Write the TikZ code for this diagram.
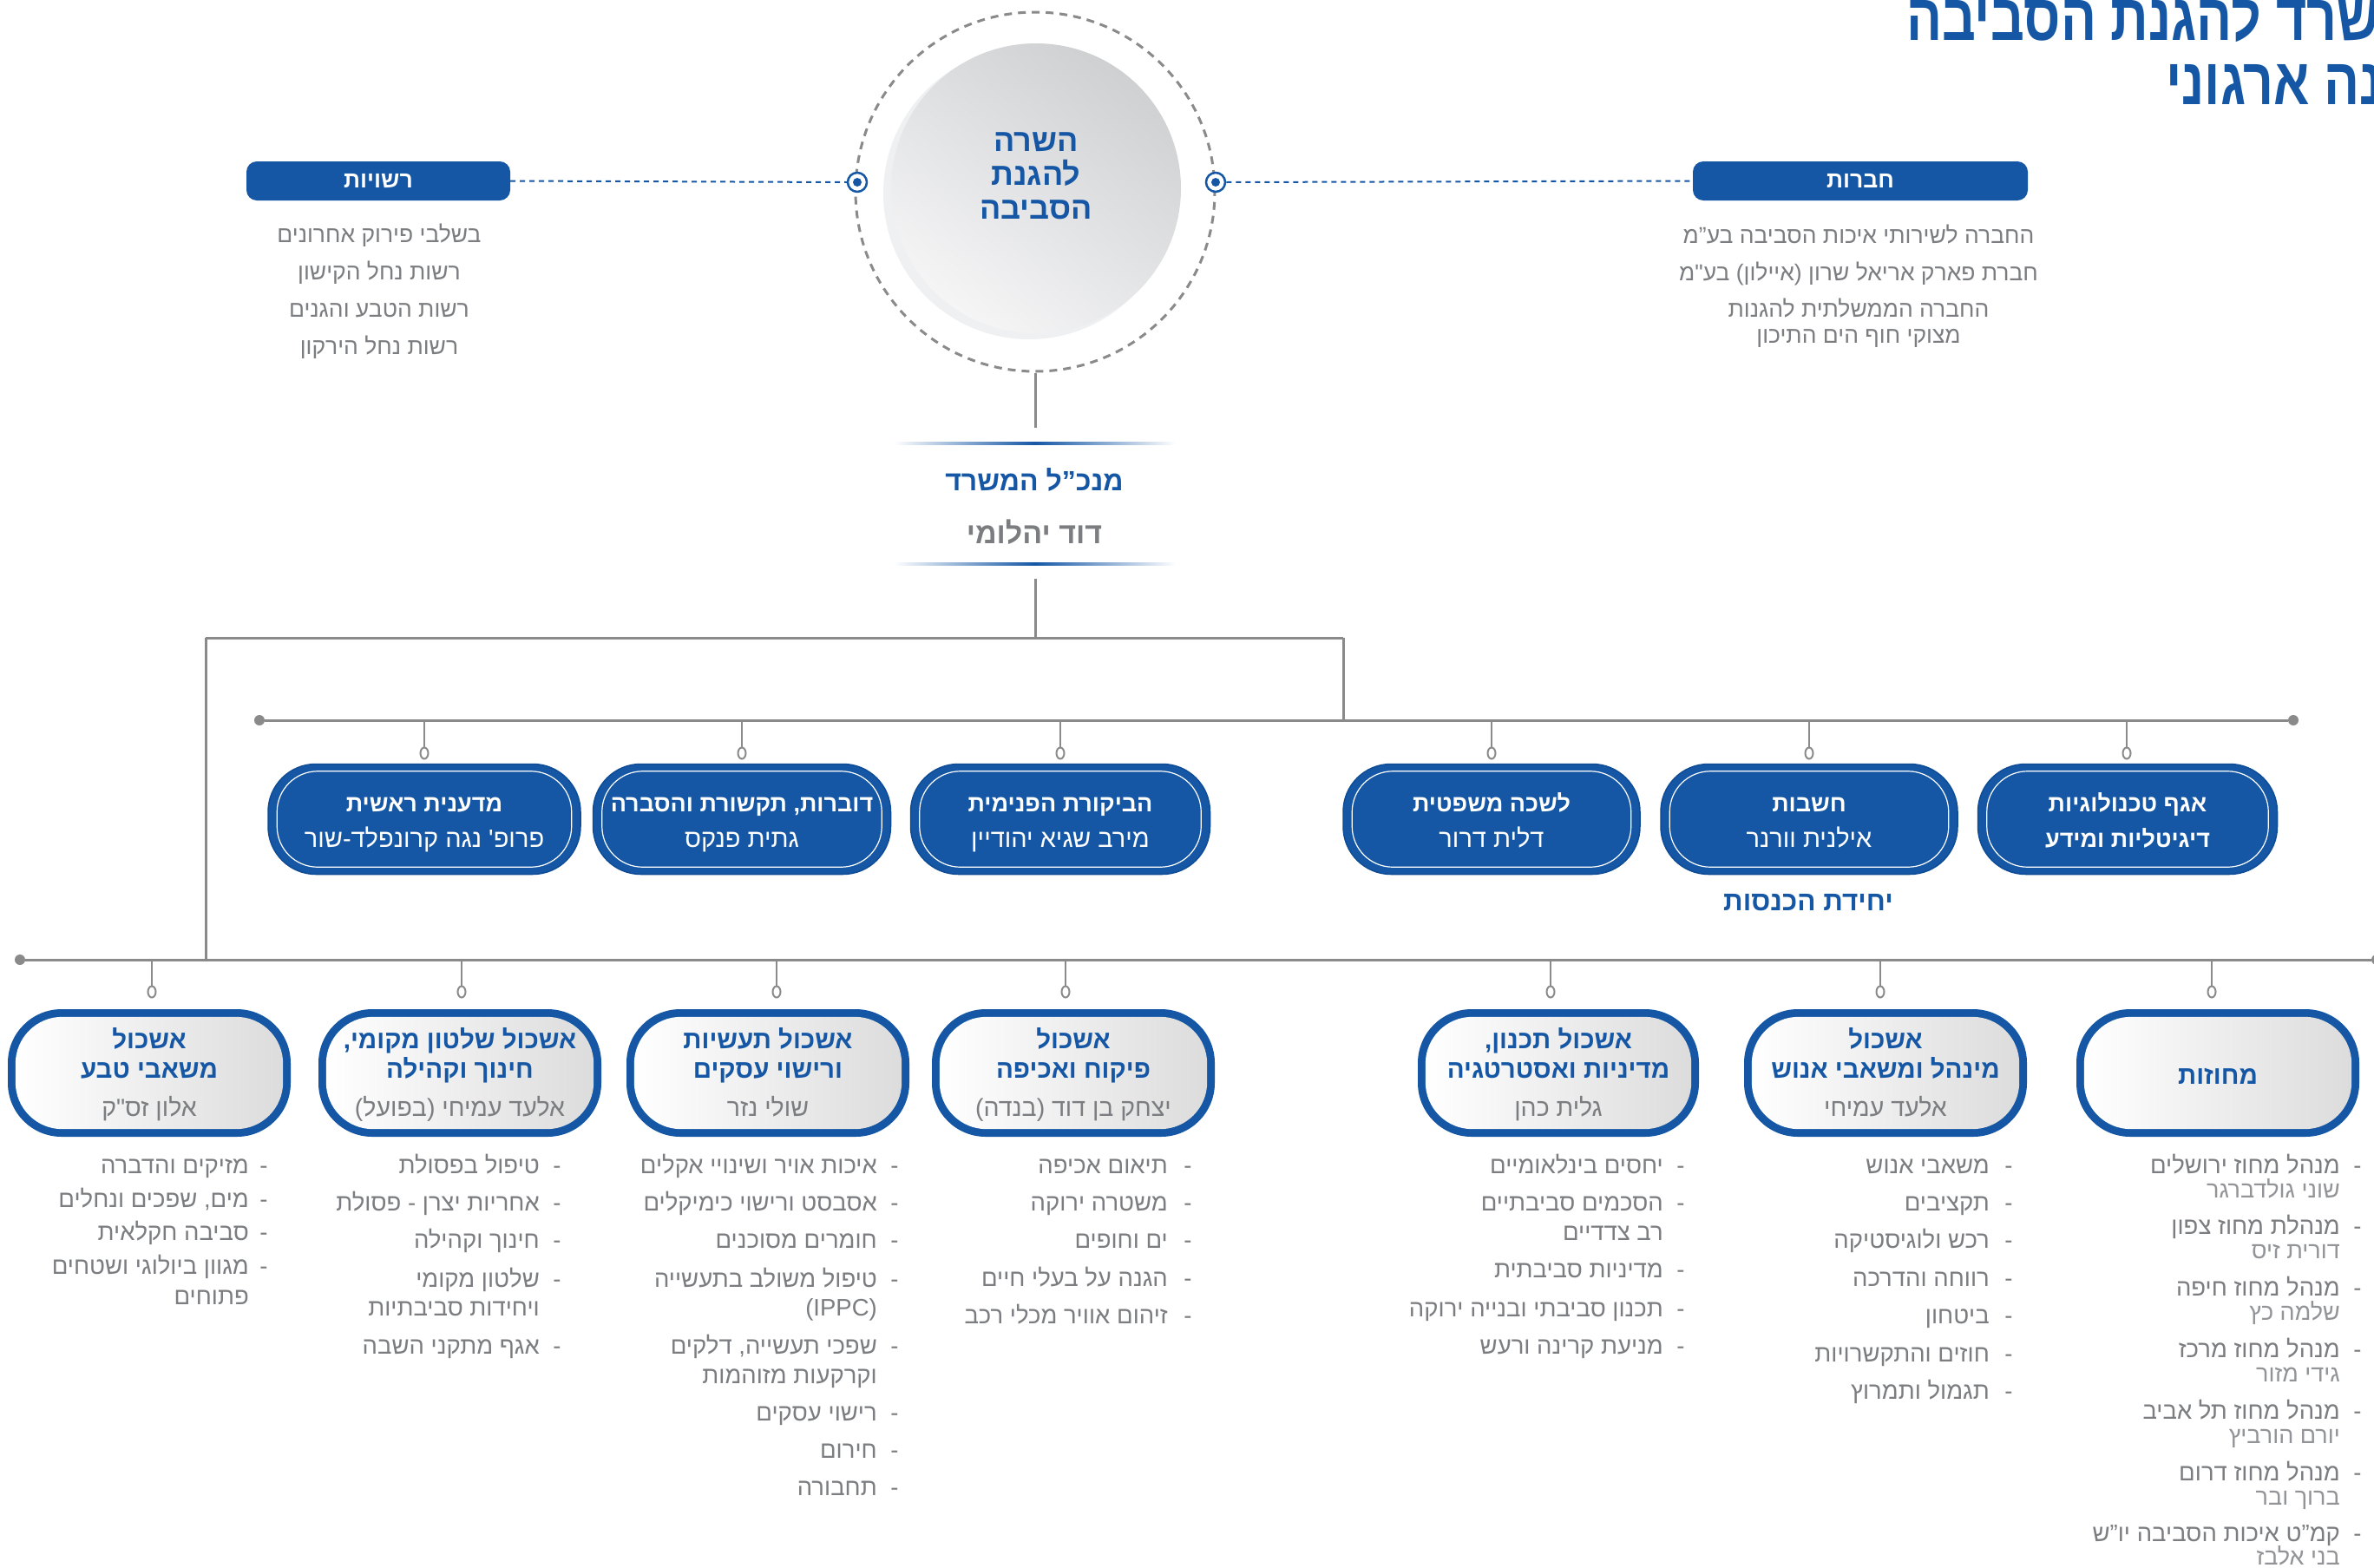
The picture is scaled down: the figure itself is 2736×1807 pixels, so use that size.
\documentclass[tikz,border=0pt]{standalone}
\usepackage{fontspec}
\usetikzlibrary{shapes.geometric}
\TeXXeTstate=1
\newfontfamily\hebf[Script=Hebrew]{Liberation Sans}
\newfontfamily\hebtitle[Script=Hebrew,FakeStretch=0.8]{Liberation Sans}
\definecolor{envblue}{HTML}{1557A5}
\definecolor{envdark}{HTML}{0F4C95}
\definecolor{txtgray}{HTML}{7B7D80}
\definecolor{namegray}{HTML}{929497}
\definecolor{linegray}{HTML}{8A8A8A}
\definecolor{boxgray}{HTML}{DCDCDC}
\definecolor{circdark}{HTML}{CFD0D2}
\definecolor{circlight}{HTML}{F5F5F6}
\definecolor{circshadow}{HTML}{EEF0F2}
\tikzset{
 titletxt/.style={font=\hebtitle\bfseries\fontsize{76pt}{80pt}\selectfont, text=envblue, inner sep=0pt},
 topbox/.style={rectangle, fill=envblue, rounded corners=12pt, minimum height=45pt, inner sep=0pt, text=white, font=\hebf\bfseries\fontsize{26.5pt}{28pt}\selectfont},
 toplst/.style={font=\hebf\fontsize{26.5pt}{30pt}\selectfont, text=txtgray, inner sep=0pt},
 lst/.style={font=\hebf\fontsize{27.5pt}{30pt}\selectfont, text=txtgray, inner sep=0pt},
 lstname/.style={font=\hebf\fontsize{27pt}{30pt}\selectfont, text=namegray, inner sep=0pt},
 dashline/.style={envblue, line width=2pt, dash pattern=on 6pt off 5pt},
 target/.style={circle, draw=envblue, line width=2.5pt, fill=white, minimum size=22pt, inner sep=0pt},
 conn/.style={linegray, line width=3pt},
 drop/.style={linegray, line width=2pt},
 ring/.style={ellipse, draw=linegray, line width=2pt, fill=white, minimum width=9pt, minimum height=13pt, inner sep=0pt},
 bardot/.style={circle, fill=linegray, minimum size=12pt, inner sep=0pt},
 bluebx/.style={rectangle, fill=envblue, draw=envdark, line width=1.5pt, rounded corners=55pt, minimum height=127pt, inner sep=0pt},
 bxbold/.style={font=\hebf\bfseries\fontsize{27pt}{30pt}\selectfont, text=white, inner sep=0pt},
 bxreg/.style={font=\hebf\fontsize{29pt}{30pt}\selectfont, text=white, inner sep=0pt},
 graybx/.style={rectangle, fill=envblue, rounded corners=62pt, minimum height=147pt, inner sep=0pt},
 gbold/.style={font=\hebf\bfseries\fontsize{29.5pt}{33pt}\selectfont, text=envblue, inner sep=0pt},
 greg/.style={font=\hebf\fontsize{28.5pt}{33pt}\selectfont, text=txtgray, inner sep=0pt},
 circtxt/.style={font=\hebf\bfseries\fontsize{36pt}{40pt}\selectfont, text=envblue, inner sep=0pt},
 dgtxt/.style={font=\hebf\bfseries\fontsize{32pt}{40pt}\selectfont, text=envblue, inner sep=0pt},
}
\newcommand{\li}[5]{%
  \node[lst, anchor=base] (#1d) at (#2,#4) {-};
  \node[lst, anchor=base east] (#1) at (#3,#4) {#5};}
\newcommand{\lc}[4]{%
  \node[lst, anchor=base east] (#1) at (#2,#3) {#4};}
\newcommand{\bluebox}[6]{%
  \node[bluebx, minimum width=#4pt] (#1) at (#2,#3) {};
  \draw[white, line width=1.2pt, rounded corners=47pt] ([shift={(11pt,9pt)}]#1.south west) rectangle ([shift={(-11pt,-9pt)}]#1.north east);
  \node[bxbold, anchor=base] (#1a) at (#2,935) {#5};
  \node[bxreg, anchor=base] (#1b) at (#2,976) {#6};}
\newcommand{\graybox}[3]{%
  \node[graybx, minimum width=#3pt] (#1) at (#2,1236.5) {};
  \shade[left color=white, right color=boxgray, rounded corners=54pt] ([shift={(9pt,9pt)}]#1.south west) rectangle ([shift={(-9pt,-9pt)}]#1.north east);}
\begin{document}
\begin{tikzpicture}[x=1pt,y=-1pt]
\useasboundingbox (0,0) rectangle (2736,1807);
\fill[white] (0,0) rectangle (2736,1807);

% title
\node[titletxt, anchor=base east] (title1) at (2743,46) {\beginR שרד להגנת הסביבה\endR};
\node[titletxt, anchor=base east] (title2) at (2746,120) {\beginR נה ארגוני\endR};

% minister circle
\node[circle, draw=linegray, line width=3pt, dash pattern=on 9pt off 7pt, minimum size=414pt, inner sep=0pt] (minister) at (1193,221) {};
\fill[circshadow] (1186,223) circle[radius=168pt];
\shade[top color=circdark, bottom color=circlight, shading angle=-35] (1194,217) circle[radius=167pt];
\node[circtxt, anchor=base] (m1) at (1194,174) {\beginR השרה\endR};
\node[circtxt, anchor=base] (m2) at (1194,213) {\beginR להגנת\endR};
\node[circtxt, anchor=base] (m3) at (1194,252) {\beginR הסביבה\endR};

% side boxes
\node[target] (tl) at (988,210) {};
\fill[envblue] (tl.center) circle[radius=5pt];
\node[target] (tr) at (1401,210) {};
\fill[envblue] (tr.center) circle[radius=5pt];
\node[topbox, minimum width=304pt] (rash) at (436,208.5) {\beginR רשויות\endR};
\node[topbox, minimum width=386pt] (chav) at (2144,208.5) {\beginR חברות\endR};
\draw[dashline] (rash.east) -- (tl.west);
\draw[dashline] (tr.east) -- (chav.west);

\node[toplst, anchor=base] (r1) at (437,279) {\beginR בשלבי פירוק אחרונים\endR};
\node[toplst, anchor=base] (r2) at (437,322) {\beginR רשות נחל הקישון\endR};
\node[toplst, anchor=base] (r3) at (437,365) {\beginR רשות הטבע והגנים\endR};
\node[toplst, anchor=base] (r4) at (437,408) {\beginR רשות נחל הירקון\endR};
\node[toplst, anchor=base] (c1) at (2142,280) {\beginR החברה לשירותי איכות הסביבה בע”מ\endR};
\node[toplst, anchor=base] (c2) at (2142,323) {\beginR חברת פארק אריאל שרון (איילון) בע"מ\endR};
\node[toplst, anchor=base] (c3) at (2142,365) {\beginR החברה הממשלתית להגנות\endR};
\node[toplst, anchor=base] (c4) at (2142,395) {\beginR מצוקי חוף הים התיכון\endR};

% director general
\coordinate (dgtop) at (1193,493);
\draw[conn] (minister.south) -- (dgtop);
\shade[left color=white, right color=white, middle color=envblue] (1030,509.5) rectangle (1355,512.5);
\node[dgtxt, anchor=base] (dg) at (1192,565) {\beginR מנכ”ל המשרד\endR};
\node[dgtxt, font=\hebf\bfseries\fontsize{34pt}{40pt}\selectfont, text=txtgray, anchor=base] (dgname) at (1192,626) {\beginR דוד יהלומי\endR};
\shade[left color=white, right color=white, middle color=envblue] (1030,648.5) rectangle (1355,651.5);
\coordinate (dgbot) at (1193,667);
\coordinate (hub) at (1193,735);
\coordinate (hl) at (237,735);
\coordinate (hr) at (1548,735);
\coordinate (midj) at (1548,830);
\coordinate (botj) at (237,1106);
\draw[conn] (dgbot) -- (hub);
\draw[conn] (hl) -- (hr);
\draw[conn] (hr) -- (midj);
\draw[conn] (hl) -- (botj);

% middle bar
\node[bardot] (mbl) at (299,830) {};
\node[bardot] (mbr) at (2643,830) {};
\draw[conn] (mbl) -- (mbr);
\foreach \n/\x in {d1/489,d2/855,d3/1222,d4/1719,d5/2085,d6/2451}{
  \coordinate (\n-t) at (\x,830);
  \node[ring] (\n-r) at (\x,868) {};
  \draw[drop] (\n-t) -- (\n-r.north);
}
\bluebox{b1}{489}{944}{360}{\beginR מדענית ראשית\endR}{\beginR פרופ' נגה קרונפלד-שור\endR}
\bluebox{b2}{855}{944}{343}{\beginR דוברות, תקשורת והסברה\endR}{\beginR גתית פנקס\endR}
\bluebox{b3}{1222}{944}{345}{\beginR הביקורת הפנימית\endR}{\beginR מירב שגיא יהודיין\endR}
\bluebox{b4}{1719}{944}{342}{\beginR לשכה משפטית\endR}{\beginR דלית דרור\endR}
\bluebox{b5}{2085}{944}{342}{\beginR חשבות\endR}{\beginR אילנית וורנר\endR}
\bluebox{b6}{2452}{944}{345}{\beginR אגף טכנולוגיות\endR}{\bfseries\fontsize{27pt}{30pt}\selectfont\beginR דיגיטליות ומידע\endR}
\node[gbold, font=\hebf\bfseries\fontsize{31.5pt}{32pt}\selectfont, anchor=base] (income) at (2084,1049) {\beginR יחידת הכנסות\endR};

% bottom bar
\node[bardot] (bbl) at (23,1106) {};
\node[bardot] (bbr) at (2739,1106) {};
\draw[conn] (bbl) -- (bbr);
\foreach \n/\x in {e1/175,e2/532,e3/895,e4/1228,e5/1787,e6/2167,e7/2549}{
  \coordinate (\n-t) at (\x,1106);
  \node[ring] (\n-r) at (\x,1143) {};
  \draw[drop] (\n-t) -- (\n-r.north);
}
\graybox{gA}{172}{326}
\graybox{gB}{530}{326}
\graybox{gC}{885}{326}
\graybox{gD}{1237}{326}
\graybox{gE}{1796}{324}
\graybox{gF}{2173}{326}
\graybox{gG}{2556}{326}
\node[gbold, anchor=base] (gA1) at (172,1208) {\beginR אשכול\endR};
\node[gbold, anchor=base] (gA2) at (172,1242) {\beginR משאבי טבע\endR};
\node[greg, anchor=base] (gA3) at (172,1286) {\beginR אלון זס"ק\endR};
\node[gbold, anchor=base] (gB1) at (530,1208) {\beginR אשכול שלטון מקומי,\endR};
\node[gbold, anchor=base] (gB2) at (530,1242) {\beginR חינוך וקהילה\endR};
\node[greg, anchor=base] (gB3) at (530,1286) {\beginR אלעד עמיחי (בפועל)\endR};
\node[gbold, anchor=base] (gC1) at (885,1208) {\beginR אשכול תעשיות\endR};
\node[gbold, anchor=base] (gC2) at (885,1242) {\beginR ורישוי עסקים\endR};
\node[greg, anchor=base] (gC3) at (885,1286) {\beginR שולי נזר\endR};
\node[gbold, anchor=base] (gD1) at (1237,1208) {\beginR אשכול\endR};
\node[gbold, anchor=base] (gD2) at (1237,1242) {\beginR פיקוח ואכיפה\endR};
\node[greg, anchor=base] (gD3) at (1237,1286) {\beginR יצחק בן דוד (בנדה)\endR};
\node[gbold, anchor=base] (gE1) at (1796,1208) {\beginR אשכול תכנון,\endR};
\node[gbold, anchor=base] (gE2) at (1796,1242) {\beginR מדיניות ואסטרטגיה\endR};
\node[greg, anchor=base] (gE3) at (1796,1286) {\beginR גלית כהן\endR};
\node[gbold, anchor=base] (gF1) at (2173,1208) {\beginR אשכול\endR};
\node[gbold, anchor=base] (gF2) at (2173,1242) {\beginR מינהל ומשאבי אנוש\endR};
\node[greg, anchor=base] (gF3) at (2173,1286) {\beginR אלעד עמיחי\endR};
\node[gbold, anchor=base] (gG1) at (2556,1249) {\beginR מחוזות\endR};

% lists
\li{la1}{304}{287}{1352}{\beginR מזיקים והדברה\endR}
\li{la2}{304}{287}{1391}{\beginR מים, שפכים ונחלים\endR}
\li{la3}{304}{287}{1429}{\beginR סביבה חקלאית\endR}
\li{la4}{304}{287}{1468}{\beginR מגוון ביולוגי ושטחים\endR}
\lc{la5}{287}{1503}{\beginR פתוחים\endR}

\li{lb1}{642}{622}{1352}{\beginR טיפול בפסולת\endR}
\li{lb2}{642}{622}{1395}{\beginR אחריות יצרן - פסולת\endR}
\li{lb3}{642}{622}{1438}{\beginR חינוך וקהילה\endR}
\li{lb4}{642}{622}{1483}{\beginR שלטון מקומי\endR}
\lc{lb5}{622}{1516}{\beginR ויחידות סביבתיות\endR}
\li{lb6}{642}{622}{1560}{\beginR אגף מתקני השבה\endR}

\li{lc1}{1031}{1011}{1352}{\beginR איכות אויר ושינויי אקלים\endR}
\li{lc2}{1031}{1011}{1395}{\beginR אסבסט ורישוי כימיקלים\endR}
\li{lc3}{1031}{1011}{1438}{\beginR חומרים מסוכנים\endR}
\li{lc4}{1031}{1011}{1483}{\beginR טיפול משולב בתעשייה\endR}
\lc{lc5}{1011}{1516}{(IPPC)}
\li{lc6}{1031}{1011}{1560}{\beginR שפכי תעשייה, דלקים\endR}
\lc{lc7}{1011}{1594}{\beginR וקרקעות מזוהמות\endR}
\li{lc8}{1031}{1011}{1637}{\beginR רישוי עסקים\endR}
\li{lc9}{1031}{1011}{1680}{\beginR חירום\endR}
\li{lc10}{1031}{1011}{1723}{\beginR תחבורה\endR}

\li{ld1}{1369}{1346}{1352}{\beginR תיאום אכיפה\endR}
\li{ld2}{1369}{1346}{1395}{\beginR משטרה ירוקה\endR}
\li{ld3}{1369}{1346}{1438}{\beginR ים וחופים\endR}
\li{ld4}{1369}{1346}{1482}{\beginR הגנה על בעלי חיים\endR}
\li{ld5}{1369}{1346}{1525}{\beginR זיהום אוויר מכלי רכב\endR}

\li{le1}{1937}{1917}{1352}{\beginR יחסים בינלאומיים\endR}
\li{le2}{1937}{1917}{1395}{\beginR הסכמים סביבתיים\endR}
\lc{le3}{1917}{1429}{\beginR רב צדדיים\endR}
\li{le4}{1937}{1917}{1472}{\beginR מדיניות סביבתית\endR}
\li{le5}{1937}{1917}{1517}{\beginR תכנון סביבתי ובנייה ירוקה\endR}
\li{le6}{1937}{1917}{1560}{\beginR מניעת קרינה ורעש\endR}

\li{lf1}{2315}{2293}{1352}{\beginR משאבי אנוש\endR}
\li{lf2}{2315}{2293}{1395}{\beginR תקציבים\endR}
\li{lf3}{2315}{2293}{1438}{\beginR רכש ולוגיסטיקה\endR}
\li{lf4}{2315}{2293}{1482}{\beginR רווחה והדרכה\endR}
\li{lf5}{2315}{2293}{1525}{\beginR ביטחון\endR}
\li{lf6}{2315}{2293}{1569}{\beginR חוזים והתקשרויות\endR}
\li{lf7}{2315}{2293}{1612}{\beginR תגמול ותמרוץ\endR}

\li{lg1}{2717}{2697}{1352}{\beginR מנהל מחוז ירושלים\endR}
\node[lstname, anchor=base east] (lg1n) at (2697,1380) {\beginR שוני גולדברגר\endR};
\li{lg2}{2717}{2697}{1422}{\beginR מנהלת מחוז צפון\endR}
\node[lstname, anchor=base east] (lg2n) at (2697,1450) {\beginR דורית זיס\endR};
\li{lg3}{2717}{2697}{1493}{\beginR מנהל מחוז חיפה\endR}
\node[lstname, anchor=base east] (lg3n) at (2697,1521) {\beginR שלמה כץ\endR};
\li{lg4}{2717}{2697}{1564}{\beginR מנהל מחוז מרכז\endR}
\node[lstname, anchor=base east] (lg4n) at (2697,1592) {\beginR גידי מזור\endR};
\li{lg5}{2717}{2697}{1635}{\beginR מנהל מחוז תל אביב\endR}
\node[lstname, anchor=base east] (lg5n) at (2697,1663) {\beginR יורם הורביץ\endR};
\li{lg6}{2717}{2697}{1706}{\beginR מנהל מחוז דרום\endR}
\node[lstname, anchor=base east] (lg6n) at (2697,1734) {\beginR ברוך ובר\endR};
\li{lg7}{2717}{2697}{1776}{\beginR קמ”ט איכות הסביבה יו”ש\endR}
\node[lstname, anchor=base east] (lg7n) at (2697,1803) {\beginR בני אלבז\endR};
\end{tikzpicture}
\end{document}
